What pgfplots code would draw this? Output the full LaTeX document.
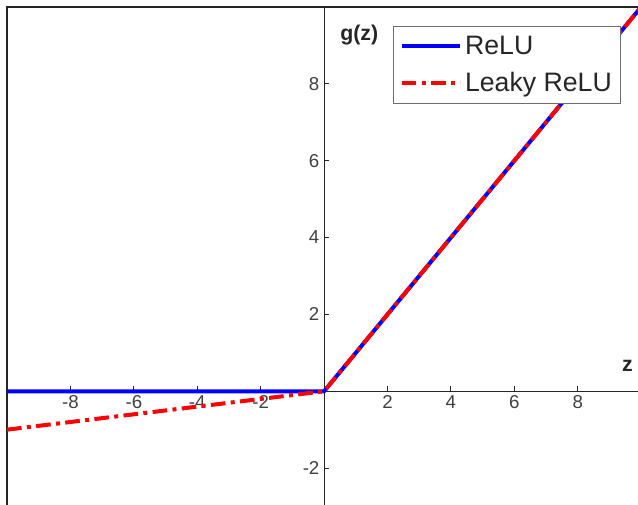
\documentclass[border=0pt]{standalone}
\usepackage{pgfplots}
\pgfplotsset{compat=1.18}
\usepackage{fontspec}
\setmainfont{Liberation Sans}
\definecolor{axgray}{HTML}{262626}
\definecolor{lblgray}{HTML}{404040}
\definecolor{legframe}{HTML}{6E6E6E}

\begin{document}
\begin{tikzpicture}
\begin{axis}[
    name=ax,
    scale only axis,
    width=473.25pt, height=373.5pt,
    xmin=-10, xmax=9.9,
    ymin=-2.96, ymax=10,
    axis lines=middle,
    axis line style={-, color=axgray, line width=0.7pt},
    xtick={-8,-6,-4,-2,2,4,6,8},
    ytick={-2,2,4,6,8},
    tick align=inside,
    major tick length=3.75pt,
    tick style={color=axgray, line width=0.7pt},
    ticklabel style={font=\fontsize{14}{16}\selectfont, color=lblgray},
    /pgf/number format/assume math mode=true,
    xlabel={\textbf{z}},
    ylabel={\textbf{g(z)}},
    xlabel style={at={(axis cs:9.57,0.67)}, anchor=center, font=\fontsize{16}{19}\selectfont, color=axgray},
    ylabel style={at={(axis cs:1.11,9.26)}, anchor=center, rotate=0, font=\fontsize{16}{19}\selectfont, color=axgray},
    clip mode=individual,
    legend style={at={(rel axis cs:1,1)}, anchor=north east, xshift=-12.75pt, yshift=-14pt,
        draw=legframe, line width=0.75pt, fill=white,
        font=\fontsize{20}{23}\selectfont, text=black!85,
        inner xsep=4.5pt, inner ysep=5.5pt, row sep=8pt,
        cells={anchor=west}},
    legend image code/.code={\draw[#1] (0pt,0pt) -- (44pt,0pt);},
]
\draw[color=axgray, line width=1.2pt] (rel axis cs:0,0) -- (rel axis cs:0,1) -- (rel axis cs:1,1);
\addplot[blue, line width=3pt] coordinates {(-10,0) (0,0) (10,10)};
\addplot[red, line width=3pt, dash pattern=on 11pt off 4pt on 3pt off 4pt] coordinates {(-10,-1) (0,0) (10,10)};
\legend{ReLU, Leaky ReLU}
\end{axis}
\pgfresetboundingbox
\path ([xshift=-5.25pt]ax.south west) rectangle ([yshift=5.25pt]ax.north east);
\end{tikzpicture}
\end{document}
